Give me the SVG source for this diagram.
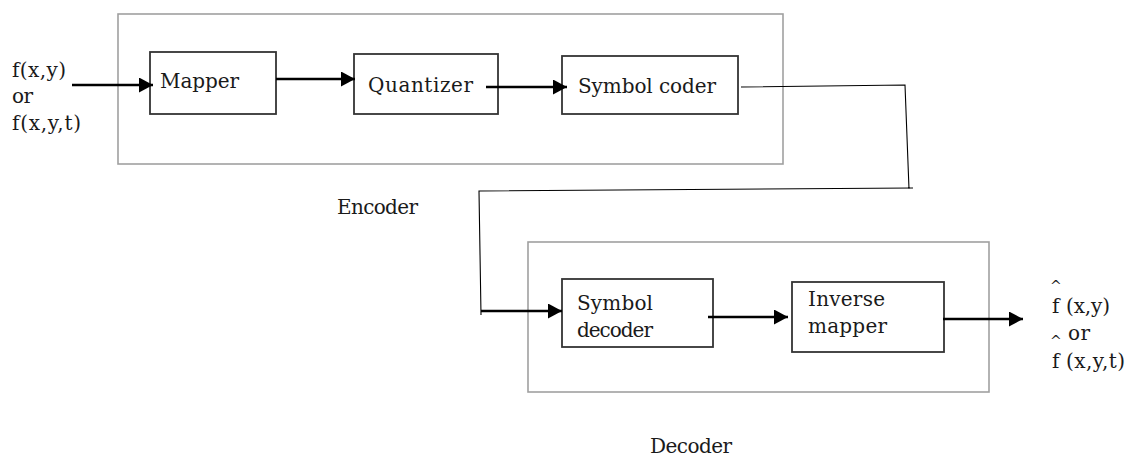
<svg xmlns="http://www.w3.org/2000/svg" width="1130" height="457" viewBox="0 0 1130 457">
<style>
text{font-family:"DejaVu Serif","Liberation Serif",serif;font-size:20px;fill:#1a1a1a}
.outer{fill:none;stroke:#a0a0a0;stroke-width:1.6}
.box{fill:#fff;stroke:#333;stroke-width:1.8}
.arr{fill:none;stroke:#000;stroke-width:2.4;marker-end:url(#ah)}
.thin{fill:none;stroke:#000;stroke-width:1.1}
.hat{font-size:14px}
</style>
<defs>
<marker id="ah" markerUnits="userSpaceOnUse" markerWidth="16" markerHeight="16" refX="14" refY="7.5" orient="auto">
<path d="M0,0 L14,7.5 L0,15 z" fill="#000"/>
</marker>
</defs>
<rect width="1130" height="457" fill="#fff"/>
<g id="encoder">
<rect class="outer" x="118" y="14" width="665" height="150"/>
<text x="337" y="214" textLength="81">Encoder</text>
</g>
<g id="decoder">
<rect class="outer" x="528" y="242" width="461" height="150"/>
<text x="650" y="453" textLength="82">Decoder</text>
</g>
<g id="input">
<text x="12" y="77" textLength="54">f(x,y)</text>
<text x="12" y="103" textLength="21">or</text>
<text x="12" y="130" textLength="69">f(x,y,t)</text>
</g>
<g id="mapper">
<rect class="box" x="150" y="52" width="126" height="62"/>
<text x="160" y="88" textLength="79">Mapper</text>
</g>
<g id="quantizer">
<rect class="box" x="354" y="54" width="144" height="60"/>
<text x="368" y="92" textLength="105">Quantizer</text>
</g>
<g id="symbol-coder">
<rect class="box" x="562" y="56" width="176" height="58"/>
<text x="578" y="93" textLength="138">Symbol coder</text>
</g>
<g id="symbol-decoder">
<rect class="box" x="562" y="279" width="151" height="68"/>
<text x="577" y="310" textLength="76">Symbol</text>
<text x="577" y="337" textLength="76">decoder</text>
</g>
<g id="inverse-mapper">
<rect class="box" x="792" y="282" width="152" height="70"/>
<text x="808" y="306" textLength="77">Inverse</text>
<text x="808" y="333" textLength="79">mapper</text>
</g>
<g id="output">
<text class="hat" x="1050" y="290.5">^</text>
<text x="1052" y="313">f</text>
<text x="1066" y="313" textLength="44">(x,y)</text>
<text x="1068" y="340" textLength="22">or</text>
<text class="hat" x="1050" y="345.5">^</text>
<text x="1052" y="368">f</text>
<text x="1066" y="368" textLength="59">(x,y,t)</text>
</g>
<g id="connectors">
<line class="arr" x1="72" y1="85" x2="153" y2="85"/>
<line class="arr" x1="276" y1="79" x2="355" y2="79"/>
<line class="arr" x1="486" y1="87" x2="567" y2="87"/>
<path class="thin" d="M741 87 L905 85 L909 189 M913 188 L479 191 L481 315"/>
<line class="arr" x1="481" y1="311" x2="562" y2="311"/>
<line class="arr" x1="708" y1="317" x2="788" y2="317"/>
<line class="arr" x1="943" y1="319" x2="1023" y2="319"/>
</g>
</svg>
